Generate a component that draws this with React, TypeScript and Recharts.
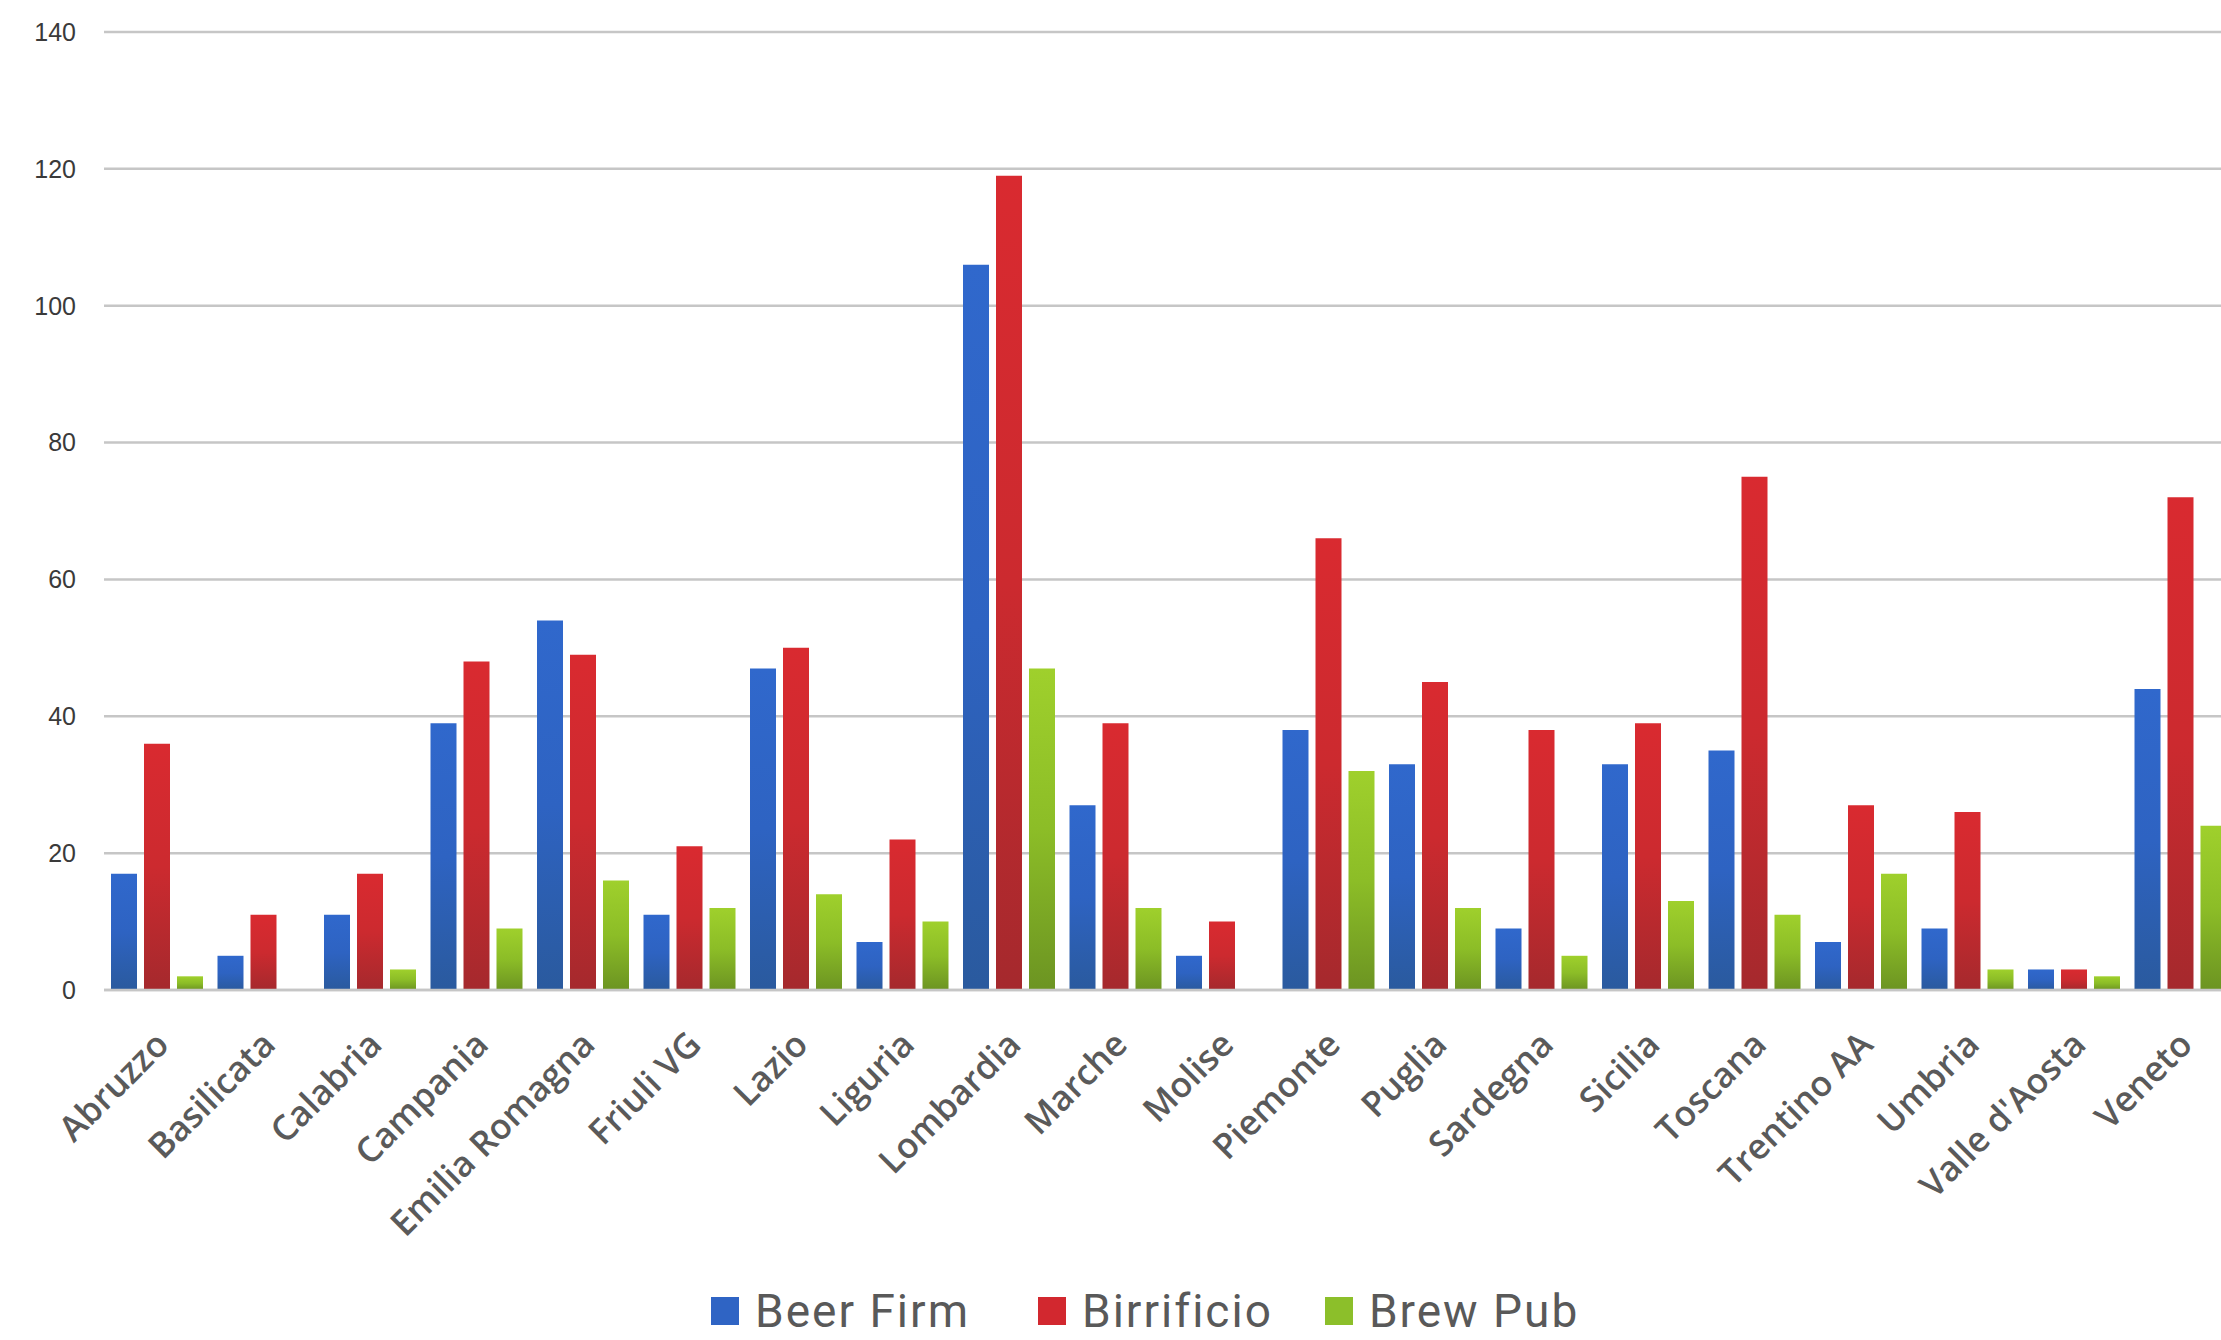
import React from 'react';
import { BarChart, Bar, XAxis, YAxis, CartesianGrid, Legend } from 'recharts';

const regions = ['Abruzzo', 'Basilicata', 'Calabria', 'Campania', 'Emilia Romagna', 'Friuli VG', 'Lazio', 'Liguria', 'Lombardia', 'Marche', 'Molise', 'Piemonte', 'Puglia', 'Sardegna', 'Sicilia', 'Toscana', 'Trentino AA', 'Umbria', "Valle d'Aosta", 'Veneto'];
const beerFirm = [17, 5, 11, 39, 54, 11, 47, 7, 106, 27, 5, 38, 33, 9, 33, 35, 7, 9, 3, 44];
const birrificio = [36, 11, 17, 48, 49, 21, 50, 22, 119, 39, 10, 66, 45, 38, 39, 75, 27, 26, 3, 72];
const brewPub = [2, 0, 3, 9, 16, 12, 14, 10, 47, 12, 0, 32, 12, 5, 13, 11, 17, 3, 2, 24];
const yTicks = [0, 20, 40, 60, 80, 100, 120, 140];
const seriesNames = ['Beer Firm', 'Birrificio', 'Brew Pub'];

const data = regions.map((r, i) => ({
  region: r,
  beerFirm: beerFirm[i],
  birrificio: birrificio[i],
  brewPub: brewPub[i],
}));

const legendColors = ['#2f64c4', '#d2282f', '#8cbf2a'];
const legendGaps = [68, 52, 0];

const XTick = (props: any) => {
  const { x, y, payload } = props;
  return (
    <g transform={`translate(${x - 4},${y + 39})`}>
      <text
        transform="rotate(-45)"
        textAnchor="end"
        dy="0.71em"
        fontSize={35}
        fontFamily="'Open Sans', sans-serif"
        fontWeight={600}
        fill="#5a5a5a"
      >
        {payload.value}
      </text>
    </g>
  );
};

const LegendContent = () => (
  <div
    style={{
      display: 'flex',
      alignItems: 'center',
      height: 44,
      fontFamily: 'Roboto, sans-serif',
      fontSize: 46,
      letterSpacing: 2,
      color: '#595959',
      lineHeight: '44px',
    }}
  >
    {seriesNames.map((n, i) => (
      <div key={n} style={{ display: 'flex', alignItems: 'center', marginRight: legendGaps[i] }}>
        <div style={{ width: 28, height: 28, background: legendColors[i], marginRight: 16 }} />
        <span>{n}</span>
      </div>
    ))}
  </div>
);

export default function App() {
  return (
    <div
      style={{
        position: 'fixed',
        left: 0,
        top: 0,
        width: 2221,
        height: 1340,
        overflow: 'hidden',
        background: '#ffffff',
      }}
    >
      <BarChart
        width={2240}
        height={1340}
        data={data}
        margin={{ top: 32, right: 6, bottom: 0, left: 0 }}
        barGap={7}
        barSize={26}
      >
        <defs>
          <linearGradient id="gBlue" x1="0" y1="0" x2="0" y2="1">
            <stop offset="0" stopColor="#3068cc" />
            <stop offset="0.5" stopColor="#2e63c2" />
            <stop offset="1" stopColor="#2a5a9e" />
          </linearGradient>
          <linearGradient id="gRed" x1="0" y1="0" x2="0" y2="1">
            <stop offset="0" stopColor="#d92a30" />
            <stop offset="0.5" stopColor="#cc2a2f" />
            <stop offset="1" stopColor="#a5292d" />
          </linearGradient>
          <linearGradient id="gGreen" x1="0" y1="0" x2="0" y2="1">
            <stop offset="0" stopColor="#9fd02c" />
            <stop offset="0.5" stopColor="#8cbd27" />
            <stop offset="1" stopColor="#6c9422" />
          </linearGradient>
        </defs>
        <CartesianGrid vertical={false} stroke="#c6c6c6" strokeWidth={2.5} />
        <XAxis
          dataKey="region"
          height={306}
          interval={0}
          tickSize={0}
          tickMargin={0}
          tickLine={false}
          axisLine={{ stroke: '#c6c6c6', strokeWidth: 2.5 }}
          tick={<XTick />}
        />
        <YAxis
          width={104}
          domain={[0, 140]}
          ticks={yTicks}
          interval={0}
          tickSize={0}
          tickMargin={28}
          tickLine={false}
          axisLine={false}
          tick={{ fontSize: 25, fill: '#3a3a3a', fontFamily: "'Liberation Sans', sans-serif" }}
        />
        <Legend
          content={<LegendContent />}
          verticalAlign="bottom"
          wrapperStyle={{ left: 711, top: 1289, width: 1000, height: 44 }}
        />
        <Bar dataKey="beerFirm" name={seriesNames[0]} fill="url(#gBlue)" isAnimationActive={false} />
        <Bar dataKey="birrificio" name={seriesNames[1]} fill="url(#gRed)" isAnimationActive={false} />
        <Bar dataKey="brewPub" name={seriesNames[2]} fill="url(#gGreen)" isAnimationActive={false} />
      </BarChart>
    </div>
  );
}
